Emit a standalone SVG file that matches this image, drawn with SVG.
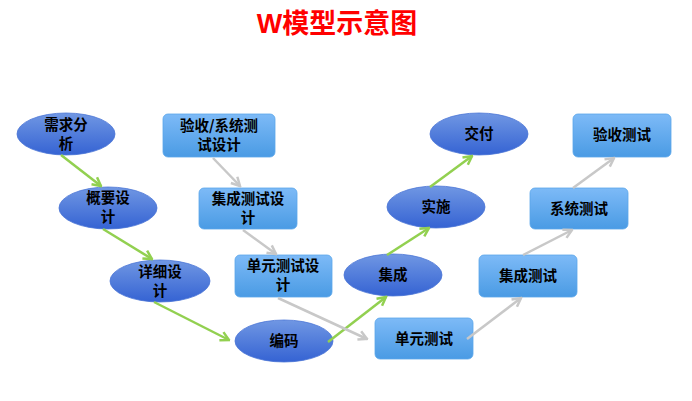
<svg xmlns="http://www.w3.org/2000/svg" width="692" height="401" viewBox="0 0 692 401">
<defs>
<linearGradient id="eg" x1="0" y1="0" x2="0" y2="1">
<stop offset="0" stop-color="#7097E3"/>
<stop offset="1" stop-color="#3563D3"/>
</linearGradient>
<linearGradient id="rg" x1="0" y1="0" x2="0" y2="1">
<stop offset="0" stop-color="#7DBAF7"/>
<stop offset="1" stop-color="#4A9BE4"/>
</linearGradient>
<marker id="ag" viewBox="0 0 12 12" refX="10.5" refY="6" markerWidth="12" markerHeight="12" orient="auto" markerUnits="userSpaceOnUse">
<path d="M2,1.5 L10.5,6 L2,10.5" fill="none" stroke="#92D050" stroke-width="2.5" stroke-linejoin="miter"/>
</marker>
<marker id="ay" viewBox="0 0 12 12" refX="10.5" refY="6" markerWidth="12" markerHeight="12" orient="auto" markerUnits="userSpaceOnUse">
<path d="M2,1.5 L10.5,6 L2,10.5" fill="none" stroke="#C8C8C8" stroke-width="2.5" stroke-linejoin="miter"/>
</marker>
</defs>
<style>
.el{fill:url(#eg);stroke:#4A75D6;stroke-width:0.8}
.rc{fill:url(#rg);stroke:#5AA6EA;stroke-width:0.8}
.t{font-family:"Noto Sans CJK SC","Liberation Sans",sans-serif;font-size:14.5px;font-weight:bold;fill:#000;text-anchor:middle}
.g{stroke:#92D050;stroke-width:2.5;fill:none}
.y{stroke:#C8C8C8;stroke-width:2.5;fill:none}
</style>
<rect width="692" height="401" fill="#fff"/>
<text x="337" y="33" font-family="'Liberation Sans','Noto Sans CJK SC',sans-serif" font-size="27" font-weight="bold" fill="#FF0000" text-anchor="middle">W模型示意图</text>

<g id="n1"><ellipse class="el" cx="66" cy="134" rx="49" ry="21"/><text class="t" x="66" y="130">需求分</text><text class="t" x="66" y="149">析</text></g>
<g id="n2"><ellipse class="el" cx="108" cy="208" rx="49" ry="21"/><text class="t" x="108" y="203">概要设</text><text class="t" x="108" y="222">计</text></g>
<g id="n3"><ellipse class="el" cx="160" cy="281" rx="50" ry="21"/><text class="t" x="160" y="277">详细设</text><text class="t" x="160" y="296">计</text></g>
<g id="n4"><ellipse class="el" cx="284" cy="341" rx="49" ry="21"/><text class="t" x="284" y="346">编码</text></g>
<g id="n5"><ellipse class="el" cx="393" cy="275" rx="49" ry="21"/><text class="t" x="393" y="280">集成</text></g>
<g id="n6"><ellipse class="el" cx="436" cy="207" rx="49" ry="21"/><text class="t" x="436" y="212">实施</text></g>
<g id="n7"><ellipse class="el" cx="479" cy="134" rx="49" ry="21"/><text class="t" x="479" y="139">交付</text></g>

<g id="r1"><rect class="rc" x="163" y="114" width="112" height="43" rx="5"/><text class="t" x="219" y="131">验收/系统测</text><text class="t" x="219" y="150">试设计</text></g>
<g id="r2"><rect class="rc" x="199" y="188" width="98" height="41" rx="5"/><text class="t" x="248" y="204">集成测试设</text><text class="t" x="248" y="223">计</text></g>
<g id="r3"><rect class="rc" x="235" y="255" width="97" height="42" rx="5"/><text class="t" x="283" y="271">单元测试设</text><text class="t" x="283" y="290">计</text></g>
<g id="r4"><rect class="rc" x="375" y="318" width="98" height="41" rx="5"/><text class="t" x="424" y="344">单元测试</text></g>
<g id="r5"><rect class="rc" x="479" y="255" width="98" height="42" rx="5"/><text class="t" x="528" y="281">集成测试</text></g>
<g id="r6"><rect class="rc" x="530" y="188" width="98" height="41" rx="5"/><text class="t" x="579" y="214">系统测试</text></g>
<g id="r7"><rect class="rc" x="573" y="114" width="98" height="43" rx="5"/><text class="t" x="622" y="140">验收测试</text></g>

<g id="connectors">
<line class="g" x1="61" y1="155" x2="101" y2="186" marker-end="url(#ag)"/>
<line class="g" x1="103" y1="229" x2="152" y2="259" marker-end="url(#ag)"/>
<line class="g" x1="154" y1="302" x2="229" y2="340" marker-end="url(#ag)"/>
<line class="g" x1="328" y1="342" x2="386" y2="297" marker-end="url(#ag)"/>
<line class="g" x1="387" y1="255" x2="429" y2="228" marker-end="url(#ag)"/>
<line class="g" x1="430" y1="187" x2="472" y2="156" marker-end="url(#ag)"/>
<line class="y" x1="213" y1="158" x2="240" y2="186" marker-end="url(#ay)"/>
<line class="y" x1="243" y1="230" x2="276" y2="254" marker-end="url(#ay)"/>
<line class="y" x1="278" y1="298" x2="367" y2="339" marker-end="url(#ay)"/>
<line class="y" x1="467" y1="339" x2="521" y2="298" marker-end="url(#ay)"/>
<line class="y" x1="523" y1="255" x2="572" y2="230" marker-end="url(#ay)"/>
<line class="y" x1="573" y1="188" x2="614" y2="158" marker-end="url(#ay)"/>
</g>
</svg>
